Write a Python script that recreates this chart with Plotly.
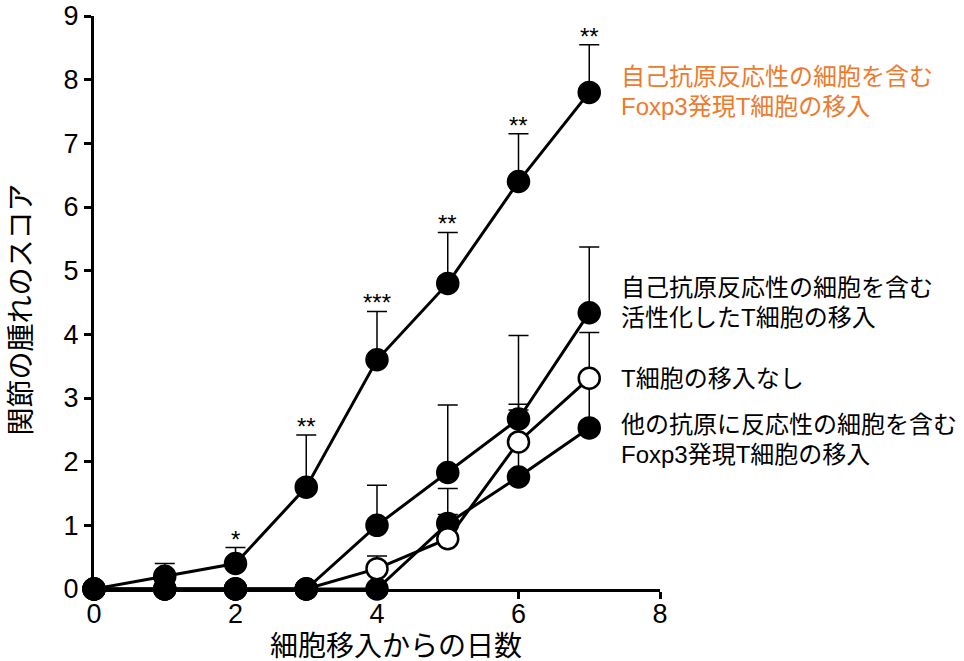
import plotly.graph_objects as go

days = [0, 1, 2, 3, 4, 5, 6, 7]

self_foxp3 = [0, 0.2, 0.4, 1.6, 3.6, 4.8, 6.4, 7.8]
self_foxp3_err = [0, 0.2, 0.25, 0.82, 0.76, 0.8, 0.75, 0.75]

activated = [0, 0, 0, 0, 1.0, 1.83, 2.67, 4.34]
activated_err = [0, 0, 0, 0, 0.63, 1.06, 1.31, 1.03]

no_transfer = [0, 0, 0, 0, 0.32, 0.79, 2.31, 3.31]
no_transfer_err = [0, 0, 0, 0, 0.2, 0.38, 0.59, 0.72]

other_foxp3 = [0, 0, 0, 0, 0, 1.03, 1.76, 2.53]
other_foxp3_err = [0, 0, 0, 0, 0, 0.55, 1.05, 0.7]

stars = ["", "", "*", "**", "***", "**", "**", "**"]

x_ticks = [0, 2, 4, 6, 8]
y_ticks = list(range(10))

x_title = "細胞移入からの日数"
y_title = "関節の腫れのスコア"

labels = [
    (["自己抗原反応性の細胞を含む", "Foxp3発現T細胞の移入"], "#EE7A2E", 7.82),
    (["自己抗原反応性の細胞を含む", "活性化したT細胞の移入"], "#000000", 4.5),
    (["T細胞の移入なし"], "#000000", 3.3),
    (["他の抗原に反応性の細胞を含む", "Foxp3発現T細胞の移入"], "#000000", 2.35),
]

FONT = "Liberation Sans, Arial, Noto Sans CJK JP, sans-serif"

fig = go.Figure()


def add_series(y, err, open_marker=False):
    fig.add_trace(go.Scatter(
        x=days, y=y, mode="lines+markers",
        line=dict(color="black", width=3),
        marker=dict(size=21, color="white" if open_marker else "black",
                    line=dict(color="black", width=2.5)),
        error_y=dict(type="data", array=err, arrayminus=[0] * len(err),
                     symmetric=False, color="black", thickness=1.5, width=10),
        cliponaxis=False, showlegend=False,
    ))


add_series(other_foxp3, other_foxp3_err)
add_series(no_transfer, no_transfer_err, open_marker=True)
add_series(activated, activated_err)
add_series(self_foxp3, self_foxp3_err)

annotations = []
for xv, yv, ev, s in zip(days, self_foxp3, self_foxp3_err, stars):
    if s:
        annotations.append(dict(
            x=xv, y=yv + ev, xref="x", yref="y", text=s, showarrow=False,
            yanchor="bottom", yshift=-7, font=dict(size=24, color="black", family=FONT)))

line_gap = 0.47
for lines, color, ycenter in labels:
    n = len(lines)
    for i, t in enumerate(lines):
        yv = ycenter + (n - 1) / 2 * line_gap - i * line_gap
        annotations.append(dict(
            x=0.927, y=yv, xref="paper", yref="y", text=t, showarrow=False,
            xanchor="left", yanchor="middle",
            font=dict(size=24, color=color, family=FONT)))

annotations.append(dict(
    x=-0.128, y=0.487, xref="paper", yref="paper", text=y_title, showarrow=False,
    textangle=-90, xanchor="center", yanchor="middle",
    font=dict(size=28, color="black", family=FONT)))
annotations.append(dict(
    x=0.534, y=-0.1, xref="paper", yref="paper", text=x_title, showarrow=False,
    xanchor="center", yanchor="middle",
    font=dict(size=28, color="black", family=FONT)))

fig.update_layout(
    width=964, height=661,
    margin=dict(l=94, r=304, t=16, b=72, autoexpand=False),
    paper_bgcolor="white", plot_bgcolor="white",
    font=dict(family=FONT, color="black"),
    annotations=annotations,
    xaxis=dict(range=[0, 8], tickvals=x_ticks, showline=True, linewidth=3,
               linecolor="black", ticks="outside", ticklen=7, tickwidth=3,
               tickcolor="black", showgrid=False, zeroline=False, automargin=False,
               ticklabelstandoff=-8,
               tickfont=dict(size=27, family=FONT)),
    yaxis=dict(range=[0, 9], tickvals=y_ticks, showline=True, linewidth=3,
               linecolor="black", ticks="outside", ticklen=7, tickwidth=3,
               tickcolor="black", showgrid=False, zeroline=False, automargin=False,
               tickfont=dict(size=27, family=FONT)),
)

fig.write_html("out.html")
